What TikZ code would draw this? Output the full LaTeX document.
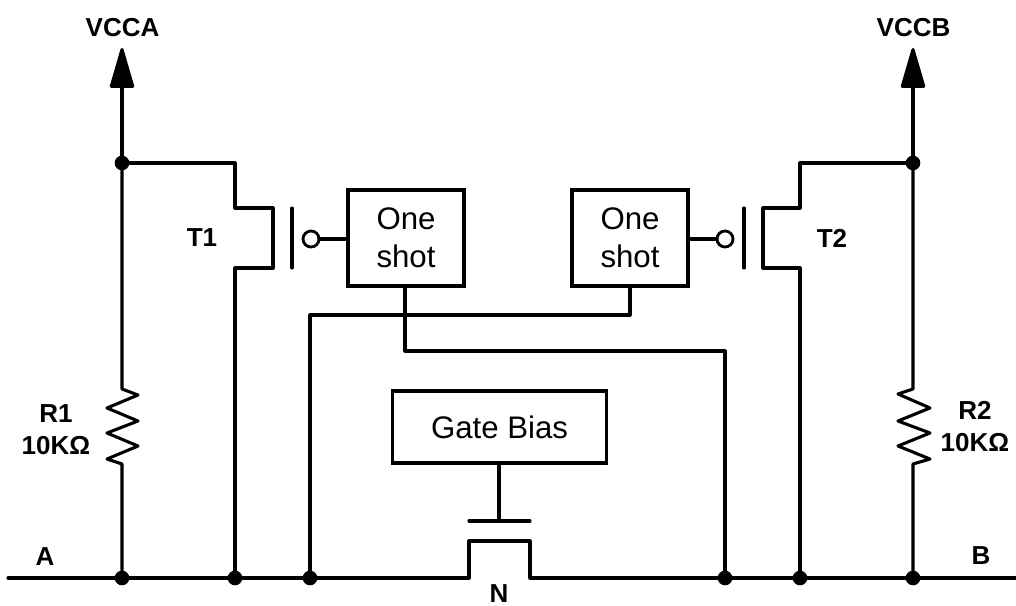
\documentclass[tikz,border=0pt]{standalone}
\usepackage{fontspec}
\setmainfont{Liberation Sans}
\usetikzlibrary{arrows.meta}
\tikzset{
  wire/.style={line width=2.3pt,line join=round,line cap=round,black},
  dotnode/.style={circle,fill=black,draw=none,minimum size=11pt,inner sep=0pt,outer sep=0pt},
  bubble/.style={circle,fill=white,draw=black,line width=2.1pt,minimum size=12pt,inner sep=0pt,outer sep=0pt},
  blockbox/.style={draw=black,line width=2.3pt,inner sep=0pt,outer sep=0pt,align=center,font=\fontsize{23.4}{28.5}\selectfont},
  lab/.style={inner sep=0pt,outer sep=0pt,align=center,font=\bfseries\fontsize{19.5}{24}\selectfont},
  rail/.style={wire,-{Triangle[length=33pt,width=18.5pt,round]}}
}
\begin{document}
\begin{tikzpicture}[x=0.75pt,y=-0.75pt]
\useasboundingbox (0,0) rectangle (1016,606);
% end points
\coordinate (L) at (8,578);
\coordinate (Rr) at (1016,578);
\coordinate (tipA) at (122,48);
\coordinate (tipB) at (913,48);
\coordinate (nl) at (469,578);
\coordinate (nr) at (530,578);
\coordinate (ngl) at (469,521);
\coordinate (ngr) at (530,521);
% junctions
\node[dotnode] (ja) at (122,163) {};
\node[dotnode] (jb) at (913,163) {};
\node[dotnode] (d1) at (122,578) {};
\node[dotnode] (d2) at (235,578) {};
\node[dotnode] (d3) at (310,578) {};
\node[dotnode] (d4) at (725,578) {};
\node[dotnode] (d5) at (800,578) {};
\node[dotnode] (d6) at (913,578) {};
% blocks
\node[blockbox,minimum width=87pt,minimum height=72pt] (os1) at (406,238) {One\\shot};
\node[blockbox,minimum width=87pt,minimum height=72pt] (os2) at (630,238) {One\\shot};
\node[blockbox,minimum width=161pt,minimum height=54pt] (gb) at (499.5,427) {Gate Bias};
% bubbles
\node[bubble] (b1) at (311,239) {};
\node[bubble] (b2) at (725,239) {};
% main line
\draw[wire] (L) -- (nl) -- (469,541) -- (530,541) -- (nr) -- (Rr);
% rails
\draw[rail] (ja) -- (tipA);
\draw[rail] (jb) -- (tipB);
\draw[wire] (ja) -- (122,389) -- (138,395) -- (107,408) -- (138,421) -- (107,433) -- (138,446) -- (107,459) -- (122,464) -- (d1);
\draw[wire] (jb) -- (913,389) -- (898,394) -- (930,408) -- (898,421) -- (930,433) -- (898,446) -- (930,459) -- (913,464) -- (d6);
% T1, T2
\draw[wire] (ja) -- (235,163) -- (235,208) -- (273,208) -- (273,268) -- (235,268) -- (d2);
\draw[wire] (jb) -- (800,163) -- (800,208) -- (763,208) -- (763,268) -- (800,268) -- (d5);
\draw[wire] (292,208) -- (292,268);
\draw[wire] (744,208) -- (744,268);
\draw[wire] (b1) -- (os1.west |- b1);
\draw[wire] (b2) -- (os2.east |- b2);
% one-shot outputs
\draw[wire] (os1.south -| 405,0) -- (405,351) -- (725,351) -- (d4);
\draw[wire] (os2.south) -- (630,315) -- (310,315) -- (d3);
% gate
\draw[wire] (gb.south -| 499,0) -- (499,521);
\draw[wire] (ngl) -- (ngr);
% labels
\node[lab] (lva) at (122.5,28) {VCCA};
\node[lab] (lvb) at (913.5,28) {VCCB};
\node[lab] (lt1) at (202,238) {T1};
\node[lab] (lt2) at (832,238) {T2};
\node[lab] (lr1) at (56,430) {R1\\10KΩ};
\node[lab] (lr2) at (975,427) {R2\\10KΩ};
\node[lab] (la) at (45,557) {A};
\node[lab] (lb) at (981,556) {B};
\node[lab] (ln) at (499,594) {N};
\end{tikzpicture}
\end{document}
